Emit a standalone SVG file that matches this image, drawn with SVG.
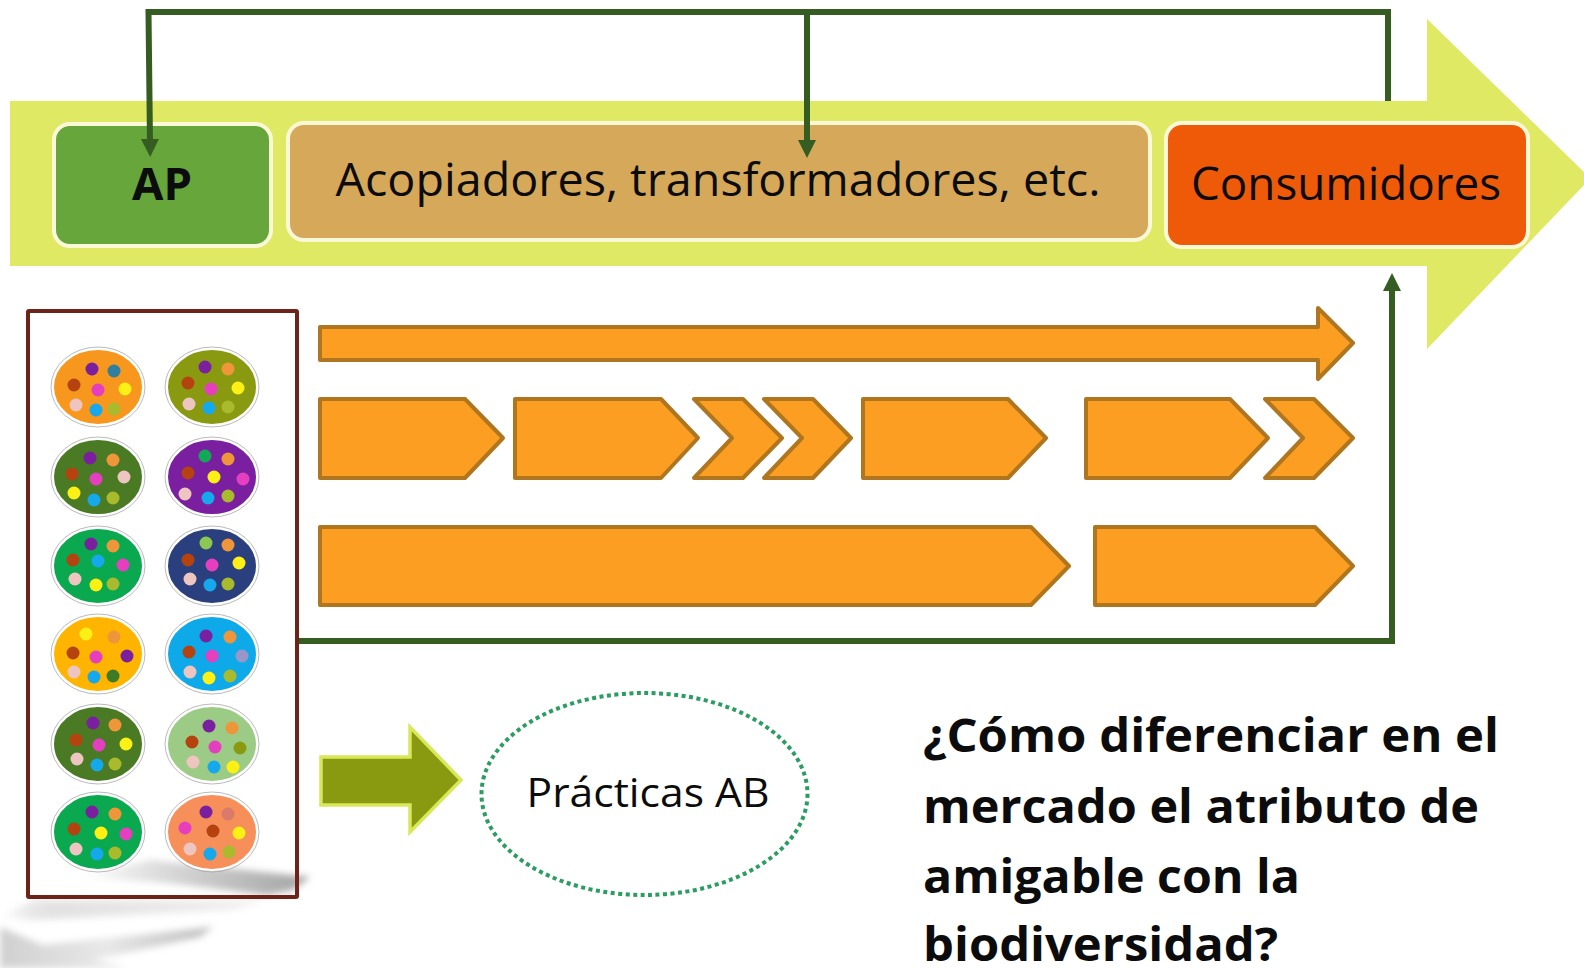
<svg xmlns="http://www.w3.org/2000/svg" width="1584" height="968" viewBox="0 0 1584 968">
<style>
text{font-family:"Open Sans","Noto Sans","Liberation Sans",sans-serif;fill:#0c0c0c}
.box{stroke:#fbf8d8;stroke-width:4}
.o{fill:#fb9e22;stroke:#b0761f;stroke-width:4;stroke-linejoin:round}
.c{fill:none;stroke:#355d22;stroke-width:6;stroke-linejoin:miter}
.pl{stroke:#fff;stroke-width:2}
.ring{fill:none;stroke:#a8a8a8;stroke-width:.8}
circle{stroke-width:0}
.pu{fill:#7a1fa0}.or{fill:#f0963a}.br{fill:#b5430f}.ma{fill:#e53fc0}.ye{fill:#fcf014}.pi{fill:#eec5c0}.cy{fill:#16a8ec}.li{fill:#a9bb2c}
.te{fill:#2e7fa0}.gr{fill:#12a855}.lg{fill:#8cc850}.dg{fill:#3f7a25}.lv{fill:#9a97c8}.ol{fill:#8a9a10}.du{fill:#d97a6a}
</style>
<defs>
<linearGradient id="sh1" x1="0" x2="1" y1="0" y2="0"><stop offset="0" stop-color="#aaa" stop-opacity="0"/><stop offset=".8" stop-color="#b4b4b4"/><stop offset="1" stop-color="#a4a4a4"/></linearGradient>
<linearGradient id="sh2" x1="0" x2="1" y1="0" y2="0"><stop offset="0" stop-color="#ccc" stop-opacity="0"/><stop offset=".2" stop-color="#e2e2e2"/><stop offset="1" stop-color="#ddd" stop-opacity=".4"/></linearGradient>
<linearGradient id="sh3" x1="0" x2="1" y1="0" y2="0"><stop offset="0" stop-color="#d0d0d0"/><stop offset=".5" stop-color="#e8e8e8"/><stop offset="1" stop-color="#bcbcbc"/></linearGradient>
<filter id="blur" x="-10%" y="-30%" width="120%" height="160%"><feGaussianBlur stdDeviation="3.500"/></filter>
<marker id="ah" markerUnits="userSpaceOnUse" markerWidth="20" markerHeight="20" refX="4" refY="9" orient="auto"><path d="M0 0L18 9L0 18Z" fill="#355d22"/></marker>
</defs>

<g id="shadows" filter="url(#blur)">
<polygon points="80,877 150,860 310,877 293,890 267,895 167,883" fill="url(#sh1)"/>
<polygon points="0,917 33,900 267,900 233,910 33,920" fill="url(#sh2)"/>
<polygon points="0,927 43,945 213,927 200,937 93,960 127,968 0,968" fill="url(#sh3)"/>
</g>

<g id="big-arrow"><polygon points="10,101 1427,101 1427,19 1584,172 1584,185 1427,349 1427,266 10,266" fill="#dfe964"/></g>

<g id="ap"><rect class="box" x="54" y="124" width="217" height="122" rx="16" fill="#66a63a"/><text x="162" y="200" font-size="44" font-weight="700" text-anchor="middle" textLength="60" lengthAdjust="spacingAndGlyphs">AP</text></g>
<g id="acopiadores"><rect class="box" x="288" y="123" width="862" height="117" rx="16" fill="#d6a85a"/><text x="718" y="196" font-size="46" text-anchor="middle" textLength="765" lengthAdjust="spacingAndGlyphs">Acopiadores, transformadores, etc.</text></g>
<g id="consumidores"><rect class="box" x="1166" y="123" width="362" height="124" rx="16" fill="#ee5a07"/><text x="1346" y="200" font-size="46" text-anchor="middle" textLength="310" lengthAdjust="spacingAndGlyphs">Consumidores</text></g>

<g id="orange-arrows">
<polygon id="flow-1" class="o" points="320,327 1318,327 1318,308 1353,343 1318,379 1318,360 320,360"/>
<polygon id="p1" class="o" points="320,399 465,399 503,438 465,478 320,478"/>
<polygon id="p2" class="o" points="515,399 661,399 698,438 661,478 515,478"/>
<polygon id="ch1" class="o" points="694,399 743,399 782,438 743,478 694,478 732,438"/>
<polygon id="ch2" class="o" points="764,399 813,399 851,438 813,478 764,478 802,438"/>
<polygon id="p3" class="o" points="863,399 1008,399 1046,438 1008,478 863,478"/>
<polygon id="p4" class="o" points="1086,399 1230,399 1268,438 1230,478 1086,478"/>
<polygon id="ch3" class="o" points="1265,399 1314,399 1353,438 1314,478 1265,478 1303,438"/>
<polygon id="p5" class="o" points="320,527 1031,527 1069,566 1031,605 320,605"/>
<polygon id="p6" class="o" points="1095,527 1315,527 1353,566 1315,605 1095,605"/>
</g>

<g id="connectors">
<path class="c" d="M1388 101V12H148.500L150 143" marker-end="url(#ah)"/>
<path class="c" d="M807 12V144" marker-end="url(#ah)"/>
<path class="c" d="M298 641H1392V287" marker-end="url(#ah)"/>
</g>

<g id="practices-box">
<rect x="28" y="311" width="269" height="586" fill="none" stroke="#6e2318" stroke-width="4" rx="1"/>
<g id="p-1"><ellipse class="pl" cx="98" cy="387" rx="45" ry="38" fill="#f7971e"/><ellipse class="ring" cx="98" cy="387" rx="47" ry="40"/><circle class="pu" cx="92" cy="369" r="6.500"/><circle class="te" cx="114" cy="371" r="6.500"/><circle class="br" cx="74" cy="385" r="6.500"/><circle class="ma" cx="98" cy="390" r="6.500"/><circle class="ye" cx="125" cy="389" r="6.500"/><circle class="pi" cx="76" cy="405" r="6.500"/><circle class="cy" cx="96" cy="410" r="6.500"/><circle class="li" cx="114" cy="409" r="6.500"/></g>
<g id="p-2"><ellipse class="pl" cx="212" cy="387" rx="45" ry="38" fill="#8a9a10"/><ellipse class="ring" cx="212" cy="387" rx="47" ry="40"/><circle class="pu" cx="205" cy="367" r="6.500"/><circle class="or" cx="228" cy="369" r="6.500"/><circle class="br" cx="188" cy="383" r="6.500"/><circle class="ma" cx="211" cy="389" r="6.500"/><circle class="ye" cx="238" cy="388" r="6.500"/><circle class="pi" cx="189" cy="404" r="6.500"/><circle class="cy" cx="209" cy="408" r="6.500"/><circle class="li" cx="228" cy="407" r="6.500"/></g>
<g id="p-3"><ellipse class="pl" cx="98" cy="477" rx="45" ry="38" fill="#4a7a23"/><ellipse class="ring" cx="98" cy="477" rx="47" ry="40"/><circle class="pu" cx="90" cy="458" r="6.500"/><circle class="or" cx="113" cy="460" r="6.500"/><circle class="br" cx="72" cy="474" r="6.500"/><circle class="ma" cx="96" cy="479" r="6.500"/><circle class="pi" cx="124" cy="477" r="6.500"/><circle class="ye" cx="74" cy="493" r="6.500"/><circle class="cy" cx="94" cy="500" r="6.500"/><circle class="li" cx="113" cy="498" r="6.500"/></g>
<g id="p-4"><ellipse class="pl" cx="212" cy="477" rx="45" ry="38" fill="#7a1fa0"/><ellipse class="ring" cx="212" cy="477" rx="47" ry="40"/><circle class="gr" cx="205" cy="456" r="6.500"/><circle class="or" cx="228" cy="459" r="6.500"/><circle class="br" cx="188" cy="473" r="6.500"/><circle class="ye" cx="214" cy="477" r="6.500"/><circle class="ma" cx="243" cy="479" r="6.500"/><circle class="pi" cx="185" cy="494" r="6.500"/><circle class="cy" cx="208" cy="498" r="6.500"/><circle class="li" cx="228" cy="496" r="6.500"/></g>
<g id="p-5"><ellipse class="pl" cx="98" cy="566" rx="45" ry="38" fill="#0aa84f"/><ellipse class="ring" cx="98" cy="566" rx="47" ry="40"/><circle class="pu" cx="91" cy="544" r="6.500"/><circle class="or" cx="113" cy="546" r="6.500"/><circle class="br" cx="73" cy="560" r="6.500"/><circle class="cy" cx="98" cy="561" r="6.500"/><circle class="ma" cx="123" cy="565" r="6.500"/><circle class="pi" cx="75" cy="579" r="6.500"/><circle class="ye" cx="96" cy="585" r="6.500"/><circle class="li" cx="113" cy="584" r="6.500"/></g>
<g id="p-6"><ellipse class="pl" cx="212" cy="566" rx="45" ry="38" fill="#2a3f7e"/><ellipse class="ring" cx="212" cy="566" rx="47" ry="40"/><circle class="lg" cx="206" cy="543" r="6.500"/><circle class="or" cx="228" cy="545" r="6.500"/><circle class="br" cx="188" cy="560" r="6.500"/><circle class="ma" cx="212" cy="565" r="6.500"/><circle class="ye" cx="239" cy="563" r="6.500"/><circle class="pi" cx="190" cy="579" r="6.500"/><circle class="cy" cx="210" cy="585" r="6.500"/><circle class="li" cx="228" cy="584" r="6.500"/></g>
<g id="p-7"><ellipse class="pl" cx="98" cy="654" rx="45" ry="38" fill="#ffb400"/><ellipse class="ring" cx="98" cy="654" rx="47" ry="40"/><circle class="ye" cx="86" cy="634" r="6.500"/><circle class="or" cx="114" cy="637" r="6.500"/><circle class="br" cx="73" cy="653" r="6.500"/><circle class="ma" cx="96" cy="657" r="6.500"/><circle class="pu" cx="127" cy="656" r="6.500"/><circle class="pi" cx="74" cy="672" r="6.500"/><circle class="cy" cx="94" cy="677" r="6.500"/><circle class="dg" cx="113" cy="676" r="6.500"/></g>
<g id="p-8"><ellipse class="pl" cx="212" cy="654" rx="45" ry="38" fill="#0ea9e8"/><ellipse class="ring" cx="212" cy="654" rx="47" ry="40"/><circle class="pu" cx="206" cy="636" r="6.500"/><circle class="or" cx="230" cy="637" r="6.500"/><circle class="br" cx="189" cy="652" r="6.500"/><circle class="ma" cx="212" cy="656" r="6.500"/><circle class="lv" cx="242" cy="656" r="6.500"/><circle class="pi" cx="190" cy="672" r="6.500"/><circle class="ye" cx="209" cy="678" r="6.500"/><circle class="li" cx="230" cy="676" r="6.500"/></g>
<g id="p-9"><ellipse class="pl" cx="98" cy="744" rx="45" ry="38" fill="#4a7a23"/><ellipse class="ring" cx="98" cy="744" rx="47" ry="40"/><circle class="pu" cx="93" cy="723" r="6.500"/><circle class="or" cx="115" cy="725" r="6.500"/><circle class="br" cx="76" cy="740" r="6.500"/><circle class="ma" cx="99" cy="745" r="6.500"/><circle class="ye" cx="126" cy="744" r="6.500"/><circle class="pi" cx="77" cy="759" r="6.500"/><circle class="cy" cx="97" cy="765" r="6.500"/><circle class="li" cx="115" cy="764" r="6.500"/></g>
<g id="p-10"><ellipse class="pl" cx="212" cy="744" rx="45" ry="38" fill="#9ccb85"/><ellipse class="ring" cx="212" cy="744" rx="47" ry="40"/><circle class="pu" cx="209" cy="726" r="6.500"/><circle class="or" cx="232" cy="728" r="6.500"/><circle class="br" cx="192" cy="742" r="6.500"/><circle class="ma" cx="215" cy="747" r="6.500"/><circle class="ol" cx="240" cy="748" r="6.500"/><circle class="pi" cx="193" cy="762" r="6.500"/><circle class="cy" cx="214" cy="767" r="6.500"/><circle class="ye" cx="233" cy="767" r="6.500"/></g>
<g id="p-11"><ellipse class="pl" cx="98" cy="832" rx="45" ry="38" fill="#0aa84f"/><ellipse class="ring" cx="98" cy="832" rx="47" ry="40"/><circle class="pu" cx="92" cy="812" r="6.500"/><circle class="or" cx="115" cy="814" r="6.500"/><circle class="br" cx="74" cy="829" r="6.500"/><circle class="ye" cx="101" cy="833" r="6.500"/><circle class="ma" cx="126" cy="834" r="6.500"/><circle class="pi" cx="76" cy="849" r="6.500"/><circle class="cy" cx="97" cy="854" r="6.500"/><circle class="li" cx="115" cy="853" r="6.500"/></g>
<g id="p-12"><ellipse class="pl" cx="212" cy="832" rx="45" ry="38" fill="#f78f5a"/><ellipse class="ring" cx="212" cy="832" rx="47" ry="40"/><circle class="pu" cx="206" cy="812" r="6.500"/><circle class="du" cx="228" cy="814" r="6.500"/><circle class="ma" cx="185" cy="828" r="6.500"/><circle class="br" cx="213" cy="831" r="6.500"/><circle class="ye" cx="239" cy="833" r="6.500"/><circle class="pi" cx="190" cy="849" r="6.500"/><circle class="cy" cx="210" cy="854" r="6.500"/><circle class="li" cx="229" cy="852" r="6.500"/></g>
</g>

<g id="olive-arrow"><polygon points="321,757 410,757 410,727 461,780 410,832 410,805 321,805" fill="#8a9a10" stroke="#d8e85a" stroke-width="3.500"/></g>

<g id="practicas"><ellipse cx="644.500" cy="794" rx="163" ry="101" fill="none" stroke="#2a9d60" stroke-width="4" stroke-dasharray="4 3.500"/><text x="648" y="807" font-size="41" text-anchor="middle" textLength="243" lengthAdjust="spacingAndGlyphs">Prácticas AB</text></g>

<g id="question" font-size="47" font-weight="700">
<text x="923" y="752" textLength="576" lengthAdjust="spacingAndGlyphs">¿Cómo diferenciar en el</text>
<text x="923" y="823" textLength="556" lengthAdjust="spacingAndGlyphs">mercado el atributo de</text>
<text x="923" y="893" textLength="377" lengthAdjust="spacingAndGlyphs">amigable con la</text>
<text x="923" y="961" textLength="355" lengthAdjust="spacingAndGlyphs">biodiversidad?</text>
</g>
</svg>
